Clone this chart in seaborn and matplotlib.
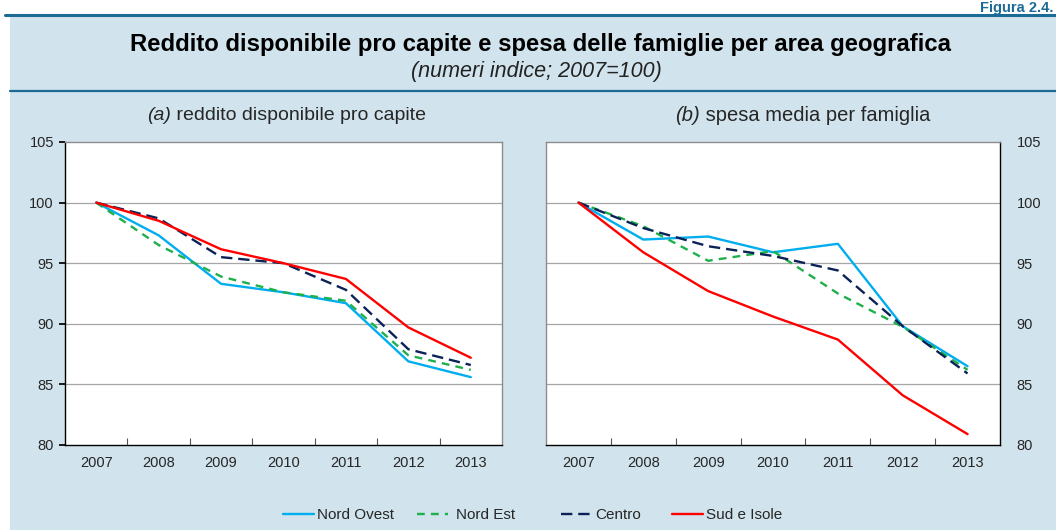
import matplotlib
matplotlib.use("Agg")
import matplotlib.pyplot as plt
from matplotlib.lines import Line2D
from matplotlib.patches import Rectangle
from matplotlib.ticker import FixedLocator
import seaborn as sns
import pandas as pd

years = ["2007", "2008", "2009", "2010", "2011", "2012", "2013"]
areas = ["Nord Ovest", "Nord Est", "Centro", "Sud e Isole"]

# (a) reddito disponibile pro capite
reddito_nord_ovest = [100, 97.3, 93.3, 92.6, 91.7, 86.9, 85.6]
reddito_nord_est = [100, 96.5, 93.9, 92.6, 91.9, 87.4, 86.2]
reddito_centro = [100, 98.7, 95.5, 95.0, 92.8, 87.9, 86.6]
reddito_sud = [100, 98.5, 96.15, 95.0, 93.7, 89.7, 87.2]

# (b) spesa media per famiglia
spesa_nord_ovest = [100, 96.95, 97.2, 95.9, 96.6, 89.8, 86.5]
spesa_nord_est = [100, 98.05, 95.2, 96.0, 92.5, 89.75, 86.2]
spesa_centro = [100, 97.9, 96.4, 95.6, 94.4, 89.8, 85.9]
spesa_sud = [100, 95.9, 92.7, 90.6, 88.7, 84.1, 80.9]

y_ticks = [80, 85, 90, 95, 100, 105]

titolo = "Reddito disponibile pro capite e spesa delle famiglie per area geografica"
sottotitolo = "(numeri indice; 2007=100)"
figura = "Figura 2.4."
tit_a = ("(a)", " reddito disponibile pro capite")
tit_b = ("(b)", " spesa media per famiglia")


def long_df(series):
    rows = []
    for area, vals in zip(areas, series):
        for y, v in zip(years, vals):
            rows.append({"anno": y, "valore": v, "area": area})
    return pd.DataFrame(rows)


df_a = long_df([reddito_nord_ovest, reddito_nord_est, reddito_centro, reddito_sud])
df_b = long_df([spesa_nord_ovest, spesa_nord_est, spesa_centro, spesa_sud])

palette = {"Nord Ovest": "#00AEEF", "Nord Est": "#1DB04B",
           "Centro": "#0B2259", "Sud e Isole": "#FF0000"}
dashes = {"Nord Ovest": "", "Nord Est": (3.3, 2.6),
          "Centro": (4.8, 2.5), "Sud e Isole": ""}
text_pad = {"Nord Ovest": 0.2, "Nord Est": 0.5, "Centro": 0.2, "Sud e Isole": 0.2}

sns.set_theme(style="white")
plt.rcParams["font.family"] = ["Liberation Sans", "DejaVu Sans"]

W, H = 1056, 530
fig = plt.figure(figsize=(W / 100, H / 100), dpi=100)
fig.patch.set_facecolor("white")

bg = "#D1E3EC"
dark = "#1C6B97"
fig.add_artist(Rectangle((10 / W, 0), 1 - 10 / W, 1 - 16 / H, transform=fig.transFigure,
                         facecolor=bg, edgecolor="none", zorder=0))
fig.add_artist(Line2D([5 / W, 1], [1 - 15 / H, 1 - 15 / H], transform=fig.transFigure,
                      color=dark, lw=2.2))
fig.add_artist(Line2D([10 / W, 1], [1 - 91 / H, 1 - 91 / H], transform=fig.transFigure,
                      color=dark, lw=1.6))

fig.text(1 - 3 / W, 1 - 1 / H, figura, ha="right", va="top", fontsize=10.5,
         fontweight="bold", color=dark)
fig.text(540 / W, 1 - 44 / H, titolo, ha="center", va="center", fontsize=17.2,
         fontweight="bold", color="black")
fig.text(536 / W, 1 - 72 / H, sottotitolo, ha="center", va="center", fontsize=15.5,
         style="italic", color="#222222")

ax_a = fig.add_axes([65 / W, 85 / H, 437 / W, 303 / H])
ax_b = fig.add_axes([546 / W, 85 / H, 454 / W, 303 / H])

for ax, df in ((ax_a, df_a), (ax_b, df_b)):
    ax.set_facecolor("white")
    sns.lineplot(data=df, x="anno", y="valore", hue="area", style="area",
                 palette=palette, dashes=dashes, linewidth=1.7, ax=ax,
                 legend=False, sort=False, zorder=3)
    ax.set_xlim(-0.5, len(years) - 0.5)
    ax.set_ylim(80, 105)
    ax.set_yticks(y_ticks)
    ax.set_xlabel("")
    ax.set_ylabel("")
    for t in [85, 90, 95, 100]:
        ax.axhline(t, color="#A6A6A6", lw=0.9, zorder=1)
    ax.xaxis.set_minor_locator(FixedLocator([i + 0.5 for i in range(len(years) - 1)]))
    ax.tick_params(axis="x", which="major", length=0, pad=8, labelsize=10.5)
    ax.tick_params(axis="x", which="minor", direction="in", length=5, color="#555555",
                   bottom=True, width=0.8)
    for s in ax.spines.values():
        s.set_linewidth(1.0)
        s.set_color("#8C8C8C")
    ax.spines["bottom"].set_color("black")

ax_a.spines["left"].set_color("black")
ax_a.tick_params(axis="y", length=4, color="black", left=True, labelsize=10.5, pad=4)

ax_b.spines["right"].set_color("black")
ax_b.yaxis.tick_right()
ax_b.tick_params(axis="y", length=0, labelsize=10.5, pad=12, right=False, left=False)


def two_part_title(x_center, y, parts, size):
    r = fig.canvas.get_renderer()
    t1 = fig.text(0, y, parts[0], fontsize=size, style="italic", va="center")
    t2 = fig.text(0, y, parts[1], fontsize=size, va="center")
    w1 = t1.get_window_extent(r).width
    w2 = t2.get_window_extent(r).width
    x0 = x_center * W - (w1 + w2) / 2
    t1.set_x(x0 / W)
    t2.set_x((x0 + w1) / W)


two_part_title(287 / W, 1 - 115 / H, tit_a, 14)
two_part_title(803 / W, 1 - 115 / H, tit_b, 14.5)

legend_x = [283, 417, 561, 672]
for a, lx in zip(areas, legend_x):
    h = Line2D([], [], color=palette[a], lw=1.7,
               linestyle=("-" if dashes[a] == "" else (0, dashes[a])))
    fig.legend([h], [a], loc="center left", bbox_to_anchor=(lx / W, 1 - 515 / H),
               frameon=False, fontsize=11, handlelength=2.05,
               handletextpad=text_pad[a], borderpad=0, borderaxespad=0)

fig.savefig("out.png", dpi=100, facecolor="white")
